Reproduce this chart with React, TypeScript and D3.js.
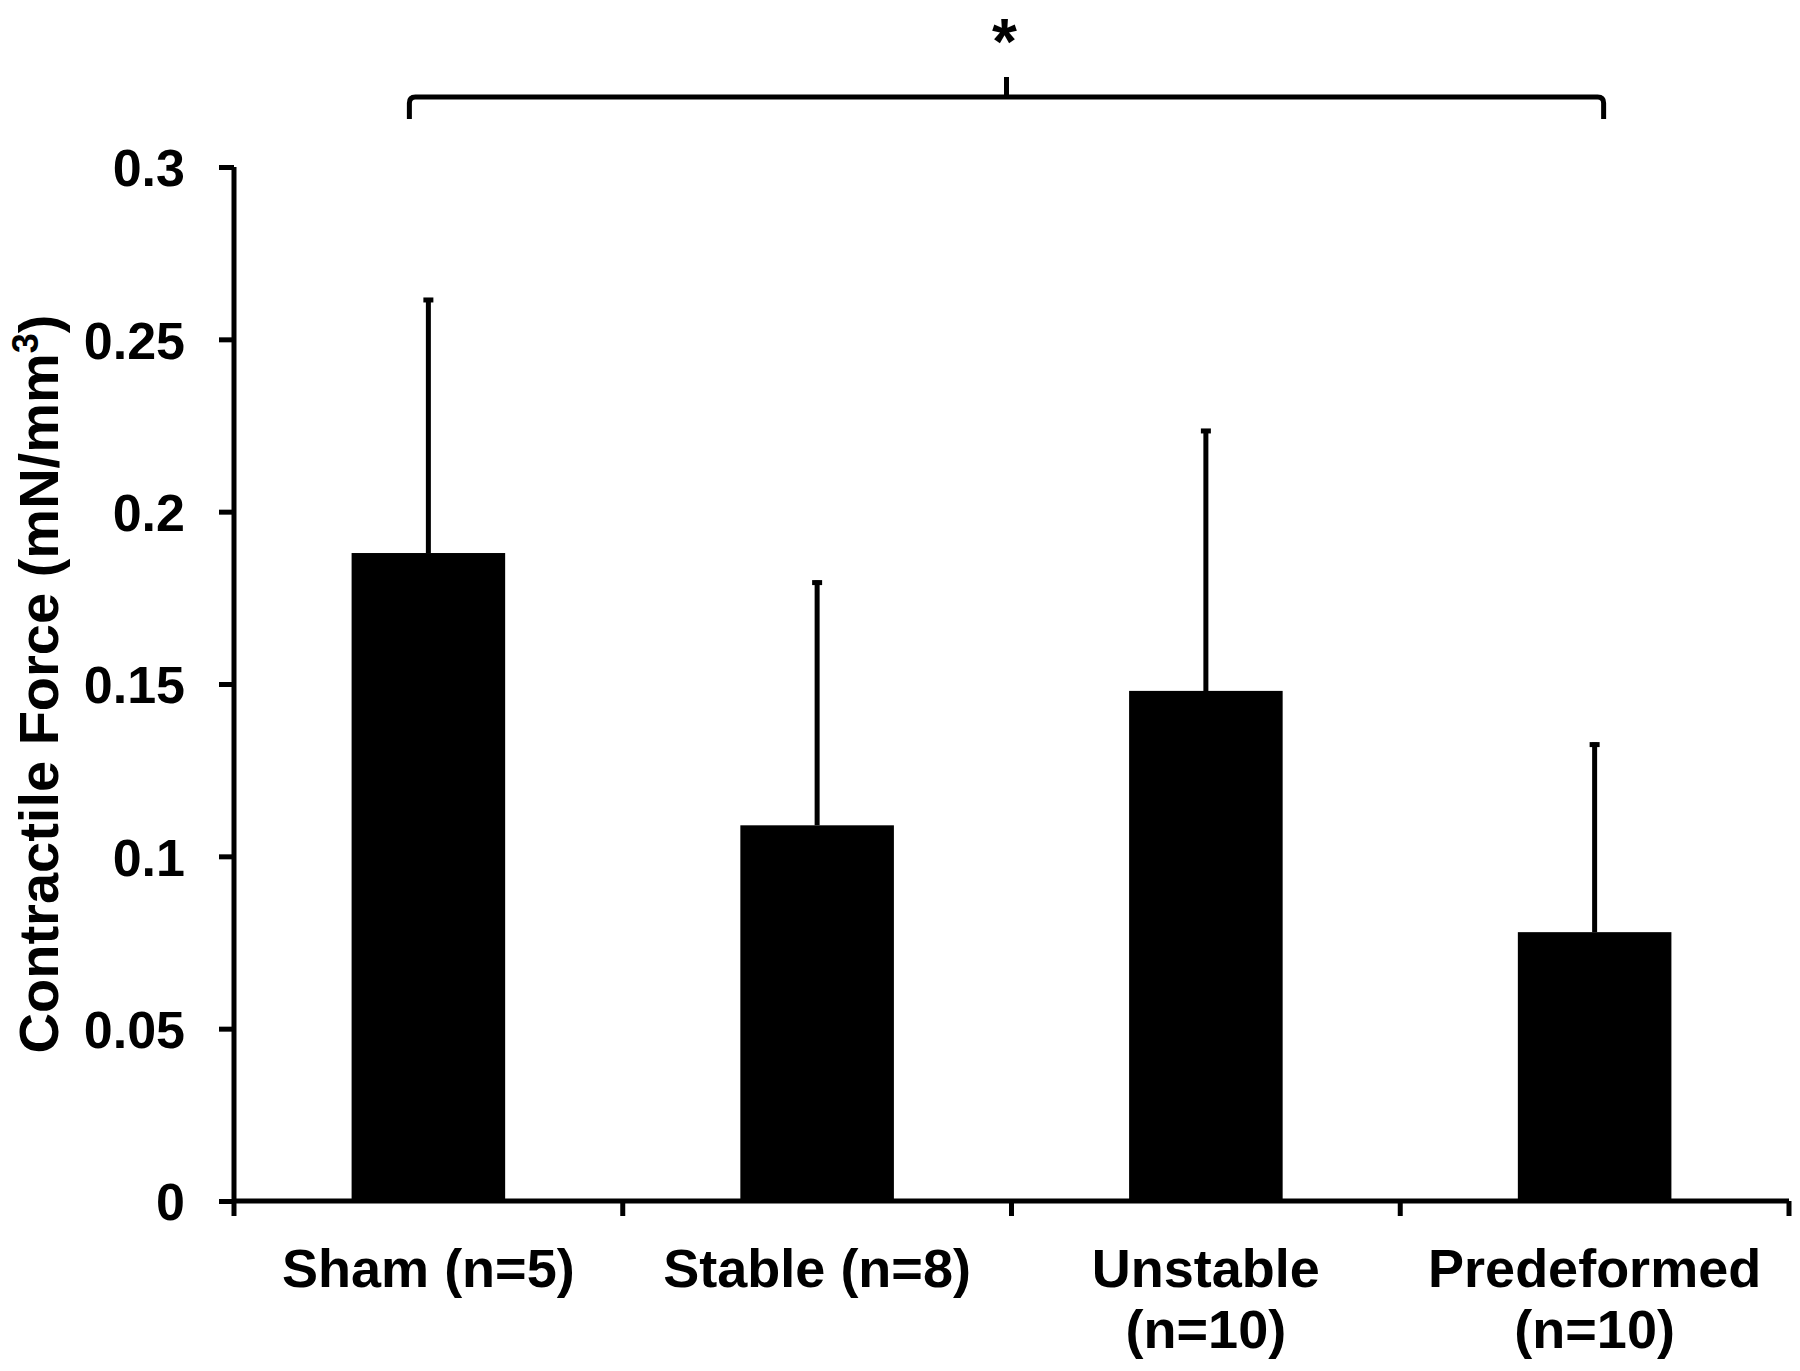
import React, { useEffect, useRef } from "react";
import * as d3 from "d3";

// group names, split in lines as in the figure
const groups = ["Sham (n=5)", "Stable (n=8)", "Unstable (n=10)", "Predeformed (n=10)"];
const groupLines = [["Sham (n=5)"], ["Stable (n=8)"], ["Unstable", "(n=10)"], ["Predeformed", "(n=10)"]];
const means = [0.188, 0.109, 0.148, 0.078];
const sds = [0.074, 0.071, 0.076, 0.055];
const yTicks = [0, 0.05, 0.1, 0.15, 0.2, 0.25, 0.3];
const yTickLabels = ["0", "0.05", "0.1", "0.15", "0.2", "0.25", "0.3"];

const W = 1800;
const H = 1371;
const FONT = "Arial, 'Liberation Sans', Helvetica, sans-serif";

export default function App() {
  const ref = useRef<SVGSVGElement>(null);

  useEffect(() => {
    const svg = d3.select(ref.current);
    svg.selectAll("*").remove();

    const margin = { top: 167, right: 11, bottom: 170, left: 234 };
    const innerW = W - margin.left - margin.right;
    const innerH = H - margin.top - margin.bottom;

    const g = svg.append("g").attr("transform", "translate(" + margin.left + "," + margin.top + ")");

    const x = d3.scaleBand().domain(groups).range([0, innerW]).padding(0);
    const y = d3.scaleLinear().domain([0, 0.3]).range([innerH, 0]);
    const barW = x.bandwidth() * 0.395;

    // bars
    g.selectAll("rect.bar")
      .data(groups)
      .enter()
      .append("rect")
      .attr("class", "bar")
      .attr("x", (d) => x(d)! + x.bandwidth() / 2 - barW / 2)
      .attr("y", (d, i) => y(means[i]))
      .attr("width", barW)
      .attr("height", (d, i) => innerH - y(means[i]))
      .attr("fill", "#000");

    // error bars (upper only)
    const err = g.selectAll("g.err").data(groups).enter().append("g").attr("class", "err");
    err.append("line")
      .attr("x1", (d) => x(d)! + x.bandwidth() / 2)
      .attr("x2", (d) => x(d)! + x.bandwidth() / 2)
      .attr("y1", (d, i) => y(means[i]))
      .attr("y2", (d, i) => y(means[i] + sds[i]))
      .attr("stroke", "#000")
      .attr("stroke-width", 5);
    err.append("line")
      .attr("x1", (d) => x(d)! + x.bandwidth() / 2 - 5)
      .attr("x2", (d) => x(d)! + x.bandwidth() / 2 + 5)
      .attr("y1", (d, i) => y(means[i] + sds[i]) + 2)
      .attr("y2", (d, i) => y(means[i] + sds[i]) + 2)
      .attr("stroke", "#000")
      .attr("stroke-width", 5);

    // y axis
    const yAxis = d3.axisLeft(y).tickValues(yTicks).tickSize(15).tickSizeOuter(0)
      .tickFormat((d, i) => yTickLabels[i]);
    const ya = g.append("g").call(yAxis);
    ya.select(".domain").attr("stroke-width", 5).attr("d", "M0," + (innerH + 15) + "V0");
    ya.selectAll(".tick line").attr("stroke-width", 5);
    ya.selectAll(".tick text")
      .attr("x", -49)
      .attr("dy", "0.36em")
      .attr("font-family", FONT)
      .attr("font-weight", "bold")
      .attr("font-size", 52)
      .attr("fill", "#000");

    // x axis: ticks sit between the categories
    const xa = g.append("g").attr("transform", "translate(0," + innerH + ")");
    xa.append("path")
      .attr("d", "M0,0H" + innerW)
      .attr("stroke", "#000")
      .attr("stroke-width", 5)
      .attr("fill", "none");
    xa.selectAll("line.xt")
      .data(groups)
      .enter()
      .append("line")
      .attr("class", "xt")
      .attr("x1", (d) => x(d)! + x.bandwidth())
      .attr("x2", (d) => x(d)! + x.bandwidth())
      .attr("y1", 0)
      .attr("y2", 15)
      .attr("stroke", "#000")
      .attr("stroke-width", 5);
    const lab = xa.selectAll("text.xl")
      .data(groups)
      .enter()
      .append("text")
      .attr("class", "xl")
      .attr("text-anchor", "middle")
      .attr("font-family", FONT)
      .attr("font-weight", "bold")
      .attr("font-size", 54)
      .attr("fill", "#000");
    lab.each(function (d, i) {
      const t = d3.select(this);
      groupLines[i].forEach((ln, k) => {
        t.append("tspan")
          .attr("x", x(d)! + x.bandwidth() / 2)
          .attr("y", 86 + k * 61)
          .text(ln);
      });
    });

    // y label
    const yl = svg.append("text")
      .attr("transform", "translate(58," + (margin.top + 517) + ") rotate(-90)")
      .attr("text-anchor", "middle")
      .attr("font-family", FONT)
      .attr("font-weight", "bold")
      .attr("font-size", 56)
      .attr("fill", "#000");
    yl.append("tspan").text("Contractile Force (mN/mm");
    yl.append("tspan").attr("font-size", 36).attr("dy", -20).text("3");
    yl.append("tspan").attr("dy", 20).text(")");

    // significance bracket from Sham to Predeformed
    const bx0 = margin.left + x(groups[0])! + x.bandwidth() / 2 - 19;
    const bx1 = margin.left + x(groups[3])! + x.bandwidth() / 2 + 9;
    const by = 97;
    const bm = (bx0 + bx1) / 2;
    svg.append("path")
      .attr("d", "M" + bx0 + "," + (by + 22) + "V" + (by + 6) + "Q" + bx0 + "," + by + " " + (bx0 + 6) + "," + by +
        "H" + (bx1 - 6) + "Q" + bx1 + "," + by + " " + bx1 + "," + (by + 6) + "V" + (by + 22) +
        "M" + bm + "," + by + "V" + (by - 20))
      .attr("stroke", "#000")
      .attr("stroke-width", 5)
      .attr("fill", "none");
    svg.append("text")
      .attr("x", bm - 2)
      .attr("y", 64)
      .attr("text-anchor", "middle")
      .attr("font-family", FONT)
      .attr("font-weight", "bold")
      .attr("font-size", 64)
      .attr("fill", "#000")
      .text("*");
  }, []);

  return (
    <svg
      ref={ref}
      width={W}
      height={H}
      style={{ position: "absolute", left: 0, top: 0, background: "#fff" }}
    ></svg>
  );
}
